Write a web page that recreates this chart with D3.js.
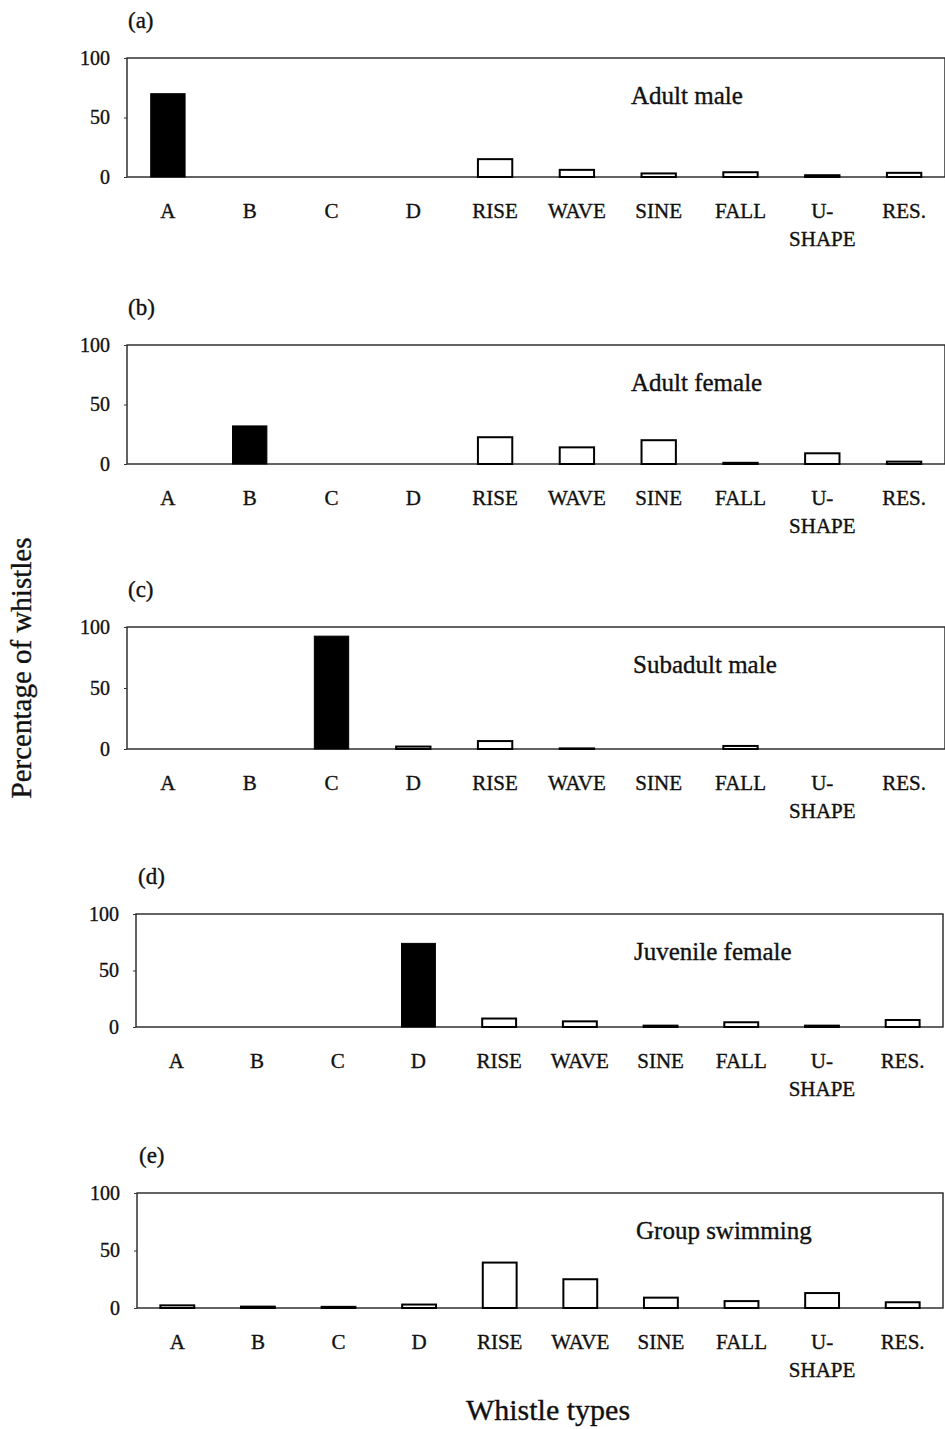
<!DOCTYPE html>
<html>
<head>
<meta charset="utf-8">
<script src="https://cdn.jsdelivr.net/npm/d3@7"></script>
<style>
  body { margin: 0; background: #fff; }
  text { font-family: "Liberation Serif", "Times New Roman", serif; fill: #111; stroke: #111; stroke-width: 0.35px; }
</style>
</head>
<body>
<div id="container"></div>
<script>
const width = 945;
const height = 1429;

// whistle types on the x axis
const categories = ["A", "B", "C", "D", "RISE", "WAVE", "SINE", "FALL", "U-SHAPE", "RES."];
const solidTypes = ["A", "B", "C", "D"];

// percentage of whistles per panel
const adultMale      = [70, 0, 0, 0, 15, 6, 3, 4, 1.5, 3.5];
const adultFemale    = [0, 32, 0, 0, 22.5, 14, 20, 1, 9, 2];
const subadultMale   = [0, 0, 92.5, 2, 6.5, 0.5, 0, 2.5, 0, 0];
const juvenileFemale = [0, 0, 0, 74, 7.5, 5, 1.2, 4.2, 1.2, 6.2];
const groupSwimming  = [2.3, 1.2, 1, 3, 39.5, 25, 9, 6, 13, 5];

const panelLetters = ["(a)", "(b)", "(c)", "(d)", "(e)"];
const panelTitles = ["Adult male", "Adult female", "Subadult male", "Juvenile female", "Group swimming"];
const yTicks = [0, 50, 100];

const series = [adultMale, adultFemale, subadultMale, juvenileFemale, groupSwimming];

// frame of each panel: left, top, right, bottom
const frames = [
  {l: 127, t: 58,   r: 945, b: 177},
  {l: 127, t: 345,  r: 945, b: 464},
  {l: 127, t: 627,  r: 945, b: 749},
  {l: 136, t: 914,  r: 943, b: 1027},
  {l: 137, t: 1193, r: 943, b: 1308}
];
const titleX = [631, 631, 633, 634, 636];

const svg = d3.select("div#container")
  .append("svg")
  .attr("width", width)
  .attr("height", height);

series.forEach(function(values, i) {
  const f = frames[i];
  const data = categories.map(function(c, j) { return {cat: c, value: values[j]}; });

  const x = d3.scaleBand().domain(categories).range([f.l, f.r]).paddingInner(0.58).paddingOuter(0.29);
  const y = d3.scaleLinear().domain([0, 100]).range([f.b, f.t]);

  const g = svg.append("g");

  // frame
  g.append("rect")
    .attr("x", f.l).attr("y", f.t)
    .attr("width", f.r - f.l).attr("height", f.b - f.t)
    .attr("fill", "none").attr("stroke", "#222").attr("stroke-width", 1.4);

  // y axis
  const yAxis = d3.axisLeft(y).tickValues(yTicks).tickSize(3).tickPadding(14);
  const ya = g.append("g").attr("transform", "translate(" + f.l + ",0)").call(yAxis);
  ya.select(".domain").remove();
  ya.selectAll("line").attr("stroke", "#333");
  ya.selectAll("text").style("font-size", "20px").style("font-family", "Liberation Serif").attr("fill", "#111");

  // bars
  g.selectAll("rect.bar")
    .data(data.filter(function(d) { return d.value > 0; }))
    .enter()
    .append("rect")
    .attr("class", "bar")
    .attr("x", function(d) { return x(d.cat); })
    .attr("width", x.bandwidth())
    .attr("y", function(d) { return y(d.value); })
    .attr("height", function(d) { return y(0) - y(d.value); })
    .attr("fill", function(d) { return solidTypes.indexOf(d.cat) >= 0 && d.value > 10 ? "#000" : "#fff"; })
    .attr("stroke", "#000")
    .attr("stroke-width", function(d) { return solidTypes.indexOf(d.cat) >= 0 && d.value > 10 ? 1 : 2; });

  // category labels
  const labels = g.selectAll("text.cat")
    .data(categories)
    .enter()
    .append("text")
    .attr("class", "cat")
    .attr("text-anchor", "middle")
    .attr("x", function(d) { return x(d) + x.bandwidth() / 2; })
    .attr("y", f.b + 41)
    .style("font-size", "21px");
  labels.each(function(d) {
    const t = d3.select(this);
    if (d === "U-SHAPE") {
      t.append("tspan").attr("x", x(d) + x.bandwidth() / 2).text("U-");
      t.append("tspan").attr("x", x(d) + x.bandwidth() / 2).attr("dy", 28).text("SHAPE");
    } else {
      t.text(d);
    }
  });

  // panel letter
  g.append("text")
    .attr("x", f.l + (i < 3 ? 1 : 2))
    .attr("y", f.t - 30)
    .style("font-size", "23px")
    .text(panelLetters[i]);

  // panel title
  g.append("text")
    .attr("x", titleX[i])
    .attr("y", f.t + 46)
    .style("font-size", "25px")
    .text(panelTitles[i]);
});

svg.append("text")
  .attr("x", 548)
  .attr("y", 1420)
  .attr("text-anchor", "middle")
  .style("font-size", "30px")
  .text("Whistle types");

svg.append("text")
  .attr("transform", "translate(31,668) rotate(-90)")
  .attr("text-anchor", "middle")
  .style("font-size", "29px")
  .text("Percentage of whistles");
</script>
</body>
</html>
